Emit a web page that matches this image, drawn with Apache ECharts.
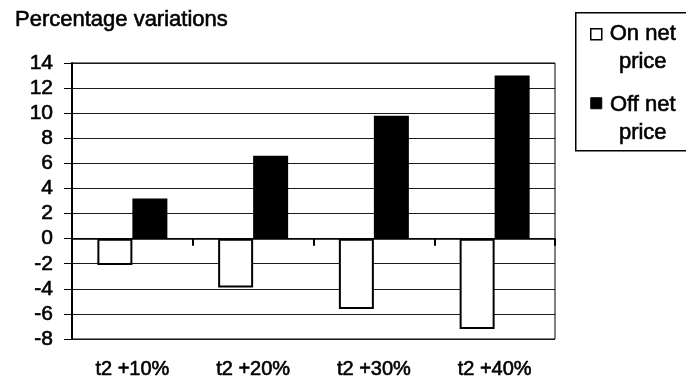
<!DOCTYPE html>
<html>
<head>
<meta charset="utf-8">
<script src="https://cdn.jsdelivr.net/npm/echarts@6/dist/echarts.min.js"></script>
<style>
  html, body { margin: 0; padding: 0; background: #fff; }
  #chart { width: 686px; height: 386px; }
</style>
</head>
<body>
<div id="chart"></div>
<script>
// Price scenarios on the category axis
const categories = ['t2 +10%', 't2 +20%', 't2 +30%', 't2 +40%'];
// Series names (legend entries)
const seriesNames = ['On net price', 'Off net price'];
// Percentage variation per scenario
const onNetValues = [-2.1, -3.9, -5.6, -7.2];
const offNetValues = [3.2, 6.6, 9.8, 13.0];
// Value axis range and step
const yMin = -8;
const yMax = 14;
const yStep = 2;
const titleText = 'Percentage variations';

const FONT = "'Liberation Sans', Arial, Helvetica, sans-serif";
// a thin outline in the text colour gives the lettering a slightly heavier look
const INK = { textBorderColor: '#000', textBorderWidth: 0.6 };
const chart = echarts.init(document.getElementById('chart'), null, { renderer: 'canvas' });

// Legend entries broken onto two lines ("On net" / "price")
const legendText = seriesNames.map(n => n.replace(/ (\S+)$/, '\n$1'));

const option = {
  animation: false,
  backgroundColor: '#fff',
  textStyle: { fontFamily: FONT, color: '#000' },
  title: {
    text: titleText,
    left: 10,
    top: 4,
    textStyle: Object.assign({ fontFamily: FONT, fontSize: 22, fontWeight: 'normal', color: '#000' }, INK)
  },
  grid: {
    left: 72, top: 63, right: 131, bottom: 47,
    show: true, borderColor: '#000', borderWidth: 1, backgroundColor: 'transparent'
  },
  xAxis: [
    {
      // category labels along the bottom edge of the plot
      type: 'category',
      data: categories,
      position: 'bottom',
      axisLine: { show: false, onZero: false },
      axisTick: { show: false },
      axisLabel: Object.assign({ fontFamily: FONT, fontSize: 20, color: '#000', margin: 20 }, INK)
    },
    {
      // zero line with short ticks between the groups
      type: 'category',
      data: categories,
      position: 'top',
      axisLine: { show: true, onZero: true, lineStyle: { color: '#000', width: 1.5 } },
      axisTick: { show: true, inside: true, length: 7, lineStyle: { color: '#000', width: 2 } },
      axisLabel: { show: false },
      splitLine: { show: false }
    }
  ],
  yAxis: {
    type: 'value',
    min: yMin,
    max: yMax,
    interval: yStep,
    axisLine: { show: true, lineStyle: { color: '#000', width: 2 } },
    axisTick: { show: true, length: 8, lineStyle: { color: '#000', width: 1 } },
    axisLabel: Object.assign({ fontFamily: FONT, fontSize: 21, color: '#000', margin: 19 }, INK),
    splitLine: { show: true, lineStyle: { color: '#1a1a1a', width: 1 } }
  },
  series: [
    {
      name: seriesNames[0],
      type: 'bar',
      xAxisIndex: 0,
      data: onNetValues,
      barWidth: 35,
      barGap: '0%',
      itemStyle: { color: '#fff', borderColor: '#000', borderWidth: 2 }
    },
    {
      name: seriesNames[1],
      type: 'bar',
      xAxisIndex: 0,
      data: offNetValues,
      barWidth: 35,
      barGap: '0%',
      itemStyle: { color: '#000' }
    }
  ],
  graphic: [
    {
      type: 'group',
      left: 575,
      top: 12,
      children: [
        {
          type: 'rect',
          shape: { x: 0, y: 0, width: 130, height: 138 },
          style: { fill: '#fff', stroke: '#000', lineWidth: 1.5 }
        },
        {
          type: 'rect',
          shape: { x: 15, y: 16, width: 11, height: 11 },
          style: { fill: '#fff', stroke: '#000', lineWidth: 1.5 }
        },
        {
          type: 'text',
          x: 67, y: 7,
          style: Object.assign({
            text: legendText[0], fill: '#000', font: '22px ' + FONT,
            align: 'center', verticalAlign: 'top', lineHeight: 28
          }, { stroke: '#000', lineWidth: 0.6 })
        },
        {
          type: 'rect',
          shape: { x: 15, y: 85, width: 11, height: 11 },
          style: { fill: '#000', stroke: '#000', lineWidth: 1 }
        },
        {
          type: 'text',
          x: 67, y: 78,
          style: Object.assign({
            text: legendText[1], fill: '#000', font: '22px ' + FONT,
            align: 'center', verticalAlign: 'top', lineHeight: 28
          }, { stroke: '#000', lineWidth: 0.6 })
        }
      ]
    }
  ]
};

chart.setOption(option);
</script>
</body>
</html>
